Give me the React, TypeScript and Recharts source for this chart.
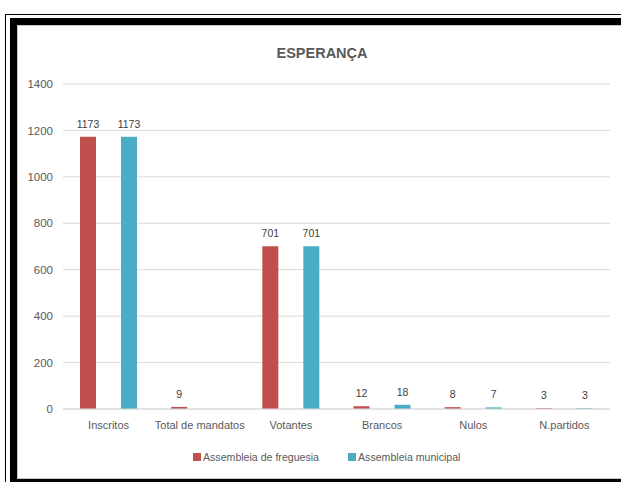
import { BarChart, Bar, XAxis, YAxis, CartesianGrid, Legend, LabelList } from 'recharts';

const categorias = ['Inscritos', 'Total de mandatos', 'Votantes', 'Brancos', 'Nulos', 'N.partidos'];
const freguesia = [1173, 9, 701, 12, 8, 3];
const municipal: (number | null)[] = [1173, null, 701, 18, 7, 3];
const yTicks = [0, 200, 400, 600, 800, 1000, 1200, 1400];

const data = categorias.map((nome, i) => ({
  nome,
  freguesia: freguesia[i],
  municipal: municipal[i],
}));

const COLORS = {
  freguesia: '#C0504D',
  municipal: '#4BACC6',
};

const FONT = "'Liberation Sans', Arial, sans-serif";

function LegendaCustom() {
  const items = [
    { label: 'Assembleia de freguesia', color: COLORS.freguesia },
    { label: 'Assembleia municipal', color: COLORS.municipal },
  ];
  return (
    <div style={{ display: 'flex', alignItems: 'center', whiteSpace: 'nowrap', fontFamily: FONT, fontSize: 10.6, color: '#595959' }}>
      {items.map((it, i) => (
        <div key={it.label} style={{ display: 'flex', alignItems: 'center', marginRight: i === 0 ? 29 : 0 }}>
          <span style={{ display: 'inline-block', width: 8, height: 8, background: it.color, marginRight: 2 }} />
          <span>{it.label}</span>
        </div>
      ))}
    </div>
  );
}

export default function App() {
  return (
    <div style={{ position: 'fixed', top: 0, left: 0, width: 621, height: 482, overflow: 'hidden', background: '#fff' }}>
      {/* molduras */}
      <div style={{ position: 'absolute', left: 5, top: 14, width: 700, height: 500, border: '1px solid #000' }} />
      <div style={{ position: 'absolute', left: 10, top: 18, width: 700, height: 468, boxSizing: 'border-box', border: '7px solid #000', background: '#fff' }} />
      <div style={{ position: 'absolute', left: 17, top: 25, width: 700, height: 454, boxSizing: 'border-box', border: '1px solid #C8C8C8' }} />

      <div style={{ position: 'absolute', left: 0, top: 45, width: 644, textAlign: 'center', fontFamily: FONT, fontSize: 14.5, fontWeight: 'bold', color: '#595959' }}>
        ESPERANÇA
      </div>

      <div style={{ position: 'absolute', left: 0, top: 0 }}>
        <BarChart
          width={621}
          height={482}
          data={data}
          margin={{ top: 84, right: 11, left: 0, bottom: 43 }}
          barSize={16}
          barGap={25}
        >
          <CartesianGrid vertical={false} stroke="#D9D9D9" />
          <XAxis
            dataKey="nome"
            height={30}
            tickLine={false}
            tickSize={0}
            tickMargin={12}
            stroke="#D9D9D9"
            tick={{ fill: '#595959', fontSize: 11, fontFamily: FONT }}
            interval={0}
          />
          <YAxis
            width={63}
            domain={[0, 1400]}
            ticks={yTicks}
            axisLine={false}
            tickLine={false}
            tickSize={0}
            tickMargin={10}
            tick={{ fill: '#595959', fontSize: 11.5, fontFamily: FONT }}
          />
          <Legend
            layout="horizontal"
            verticalAlign="middle"
            align="center"
            wrapperStyle={{ top: 451, left: 193, width: 400 }}
            content={<LegendaCustom />}
          />
          <Bar dataKey="freguesia" fill={COLORS.freguesia} name="Assembleia de freguesia" isAnimationActive={false}>
            <LabelList dataKey="freguesia" position="top" offset={9} fill="#404040" fontSize={10.5} fontFamily={FONT} />
          </Bar>
          <Bar dataKey="municipal" fill={COLORS.municipal} name="Assembleia municipal" isAnimationActive={false}>
            <LabelList dataKey="municipal" position="top" offset={9} fill="#404040" fontSize={10.5} fontFamily={FONT} />
          </Bar>
        </BarChart>
      </div>
    </div>
  );
}
